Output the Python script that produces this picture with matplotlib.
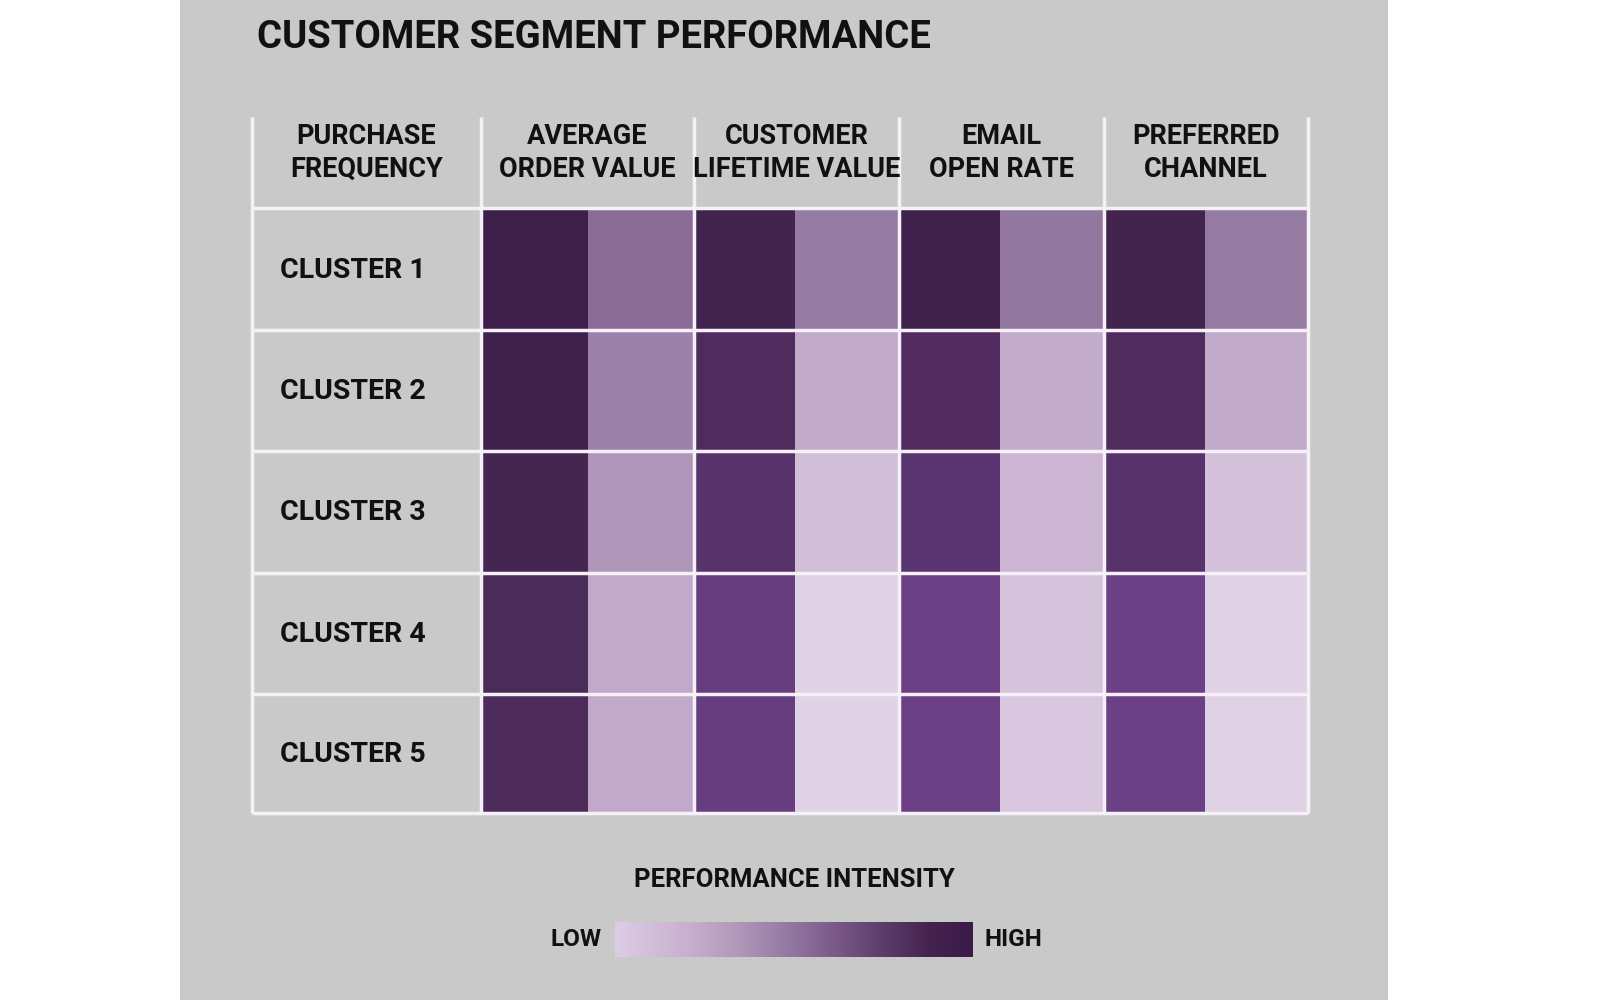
import numpy as np
import matplotlib
matplotlib.use("Agg")
import matplotlib.pyplot as plt
from matplotlib.colors import LinearSegmentedColormap
from matplotlib.patches import Rectangle

plt.rcParams['font.family'] = ['Roboto', 'DejaVu Sans']

# data
title = "CUSTOMER SEGMENT PERFORMANCE"
metrics = ["PURCHASE\nFREQUENCY", "AVERAGE\nORDER VALUE", "CUSTOMER\nLIFETIME VALUE",
           "EMAIL\nOPEN RATE", "PREFERRED\nCHANNEL"]
clusters = ["CLUSTER 1", "CLUSTER 2", "CLUSTER 3", "CLUSTER 4", "CLUSTER 5"]
# two sub-cells per metric column (the 4 shaded metric columns)
intensity = np.array([
    [0.97, 0.55, 0.93, 0.50, 0.95, 0.52, 0.94, 0.50],
    [0.96, 0.45, 0.86, 0.25, 0.85, 0.24, 0.86, 0.25],
    [0.92, 0.35, 0.80, 0.15, 0.78, 0.20, 0.80, 0.13],
    [0.88, 0.25, 0.72, 0.04, 0.70, 0.12, 0.70, 0.04],
    [0.87, 0.25, 0.72, 0.04, 0.70, 0.10, 0.70, 0.05],
])
legend_title = "PERFORMANCE INTENSITY"
legend_low, legend_high = "LOW", "HIGH"

cmap = LinearSegmentedColormap.from_list("perf", [
    (0.00, "#e3d7e9"), (0.04, "#e0d3e5"), (0.12, "#d5c3db"), (0.20, "#cbb5d3"),
    (0.25, "#c1a9c9"), (0.35, "#ad96b8"), (0.45, "#9c82a8"), (0.52, "#9279a0"),
    (0.55, "#8a6c96"), (0.70, "#6b4084"), (0.72, "#663e80"), (0.78, "#5a3470"),
    (0.85, "#522c60"), (0.88, "#4a2c5a"), (0.92, "#452650"), (0.96, "#40214c"),
    (1.00, "#3a1a46"),
])
# the legend bar is a smoother, greyer ramp
legend_cmap = LinearSegmentedColormap.from_list("perf_legend", [
    (0.00, "#ddcde4"), (0.20, "#c8b0cf"), (0.35, "#b096b8"), (0.50, "#90759f"),
    (0.62, "#7a5888"), (0.75, "#5c3d6a"), (0.88, "#44234f"), (1.00, "#3b1a4a"),
])

# layout in pixels
col_edges = [252, 481, 694, 899, 1104, 1308]
sub_edges = [481, 588, 694, 795, 899, 1000, 1104, 1205, 1308]
row_edges = [208, 330, 451, 573, 694, 813]
head_top = 117
line_col = "#f6f0f8"
txt = "#111111"

fig = plt.figure(figsize=(16, 10), dpi=100, facecolor="white")
ax = fig.add_axes([0, 0, 1, 1])
ax.set_xlim(0, 1600)
ax.set_ylim(1000, 0)
ax.axis("off")

ax.add_patch(Rectangle((180, 0), 1208, 1000, facecolor="#c9c9c9", edgecolor="none", zorder=0))

ax.text(257, 37, title, fontsize=27.5, fontweight="bold", color=txt, ha="left", va="center")

ax.pcolormesh(sub_edges, row_edges, intensity, cmap=cmap, vmin=0, vmax=1, zorder=1)

# grid
ax.vlines(col_edges, head_top, row_edges[-1], colors=line_col, lw=2.5, zorder=3)
ax.hlines(row_edges, col_edges[0], col_edges[-1], colors=line_col, lw=2.5, zorder=3)

for i, m in enumerate(metrics):
    cx = (col_edges[i] + col_edges[i + 1]) / 2
    ax.text(cx, 153, m, fontsize=19.5, fontweight="bold", color=txt, ha="center",
            va="center", linespacing=1.28)

for j, c in enumerate(clusters):
    cy = (row_edges[j] + row_edges[j + 1]) / 2
    ax.text(280, cy + 1, c, fontsize=20.5, fontweight="bold", color=txt, ha="left", va="center")

# legend
ax.text(794, 880, legend_title, fontsize=18.5, fontweight="bold", color=txt, ha="center", va="center")
grad = np.linspace(0, 1, 256).reshape(1, -1)
ax.imshow(grad, cmap=legend_cmap, vmin=0, vmax=1, extent=[615, 973, 957, 922], aspect="auto", zorder=2)
ax.text(602, 940, legend_low, fontsize=17.5, fontweight="bold", color=txt, ha="right", va="center")
ax.text(985, 940, legend_high, fontsize=17.5, fontweight="bold", color=txt, ha="left", va="center")

ax.set_xlim(0, 1600)
ax.set_ylim(1000, 0)
fig.savefig("out.png", dpi=100, facecolor="white")
